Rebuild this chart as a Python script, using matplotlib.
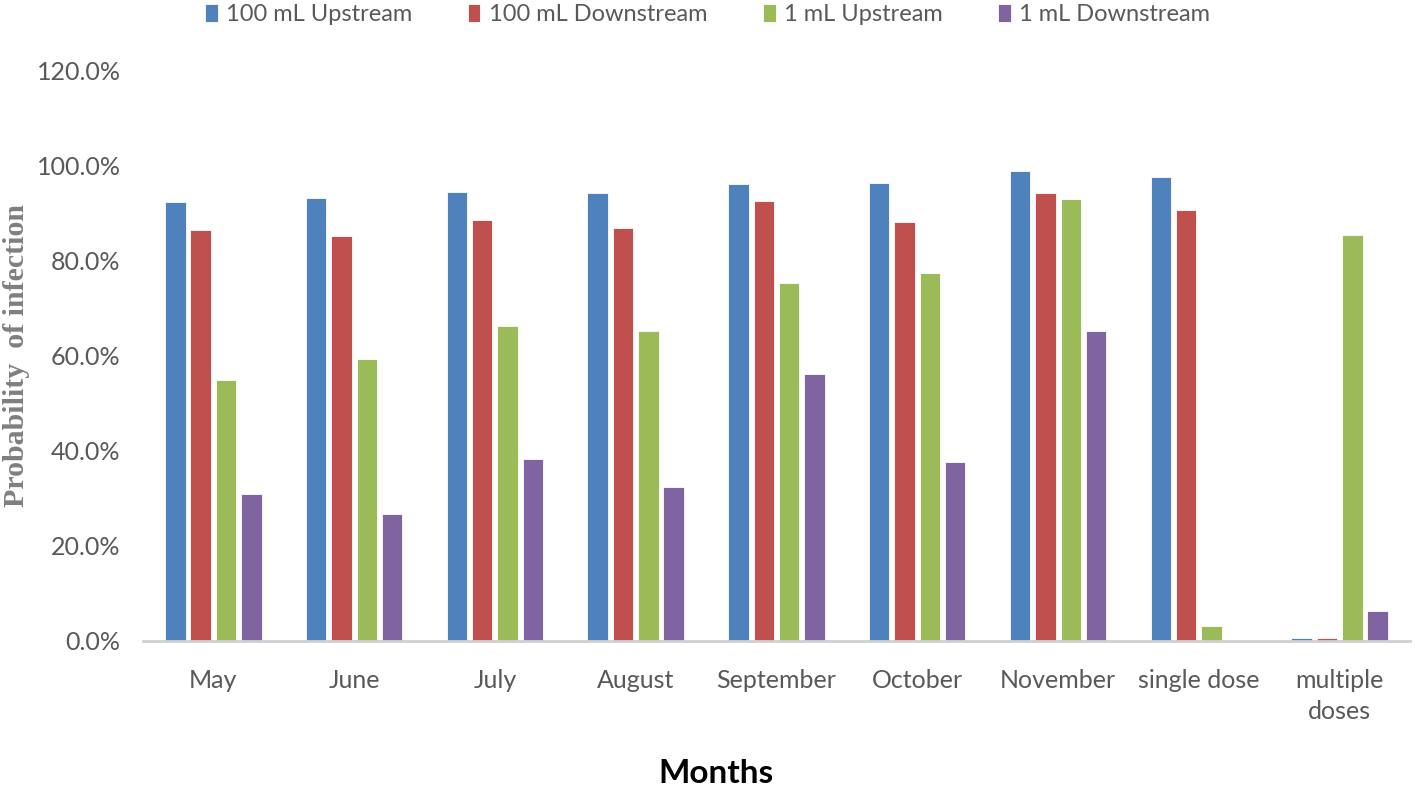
import numpy as np
import matplotlib.pyplot as plt
from matplotlib.ticker import PercentFormatter

# Data (probability of infection, %)
months = ['May', 'June', 'July', 'August', 'September', 'October',
          'November', 'single dose', 'multiple\ndoses']
up_100 = [92.5, 93.3, 94.5, 94.2, 96.1, 96.4, 98.9, 97.7, 0.7]
down_100 = [86.5, 85.2, 88.6, 87.0, 92.6, 88.3, 94.2, 90.8, 0.7]
up_1 = [55.0, 59.4, 66.3, 65.3, 75.4, 77.5, 93.0, 3.2, 85.4]
down_1 = [30.9, 26.7, 38.3, 32.4, 56.1, 37.6, 65.3, 0.0, 6.4]

series = [up_100, down_100, up_1, down_1]
labels = ['100 mL Upstream', '100 mL Downstream', '1 mL Upstream', '1 mL Downstream']
colors = ['#4F81BD', '#C0504D', '#9BBB59', '#8064A2']

plt.rcParams['font.family'] = ['Lato', 'DejaVu Sans']
grey = '#595959'

fig = plt.figure(figsize=(14.15, 7.88), dpi=100)
ax = fig.add_axes([0.101, 0.1866, 0.8955, 0.7234])

x = np.arange(len(months))
step = 0.18
width = 0.145
for i, (vals, lab, col) in enumerate(zip(series, labels, colors)):
    ax.bar(x + (i - 1.5) * step, vals, width, label=lab, color=col,
           edgecolor='white', linewidth=0.6)

ax.set_xlim(-0.5, len(months) - 0.5)
ax.set_ylim(0, 120)
ax.set_yticks(np.arange(0, 121, 20))
ax.yaxis.set_major_formatter(PercentFormatter(decimals=1))
ax.set_xticks(x)
ax.set_xticklabels(months, linespacing=1.45)

for s in ['top', 'right', 'left']:
    ax.spines[s].set_visible(False)
ax.spines['bottom'].set_color('#D0D0D0')
ax.spines['bottom'].set_linewidth(2)
ax.tick_params(axis='both', length=0, labelsize=18, labelcolor=grey)
ax.tick_params(axis='y', pad=16)
ax.tick_params(axis='x', pad=20)

ax.set_ylabel('Probability  of infection', family=['Liberation Serif'],
              fontweight='bold', fontsize=21.5, color='#7F7F7F')
ax.yaxis.set_label_coords(-0.089, 0.5)
fig.text(0.506, 0.006, 'Months', ha='center', va='baseline',
         fontsize=24, fontweight='bold', color='black')

leg = fig.legend(loc='upper center', bbox_to_anchor=(0.5, 1.022), ncol=4,
                 frameon=False, fontsize=17, handlelength=0.55, handleheight=0.8,
                 handletextpad=0.35, columnspacing=2.35)
for t in leg.get_texts():
    t.set_color(grey)

fig.savefig('out.png', dpi=100)
